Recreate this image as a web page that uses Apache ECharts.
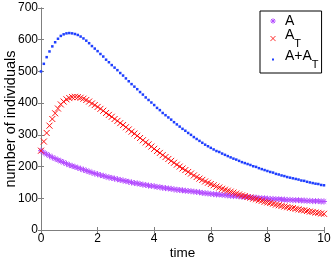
<!DOCTYPE html>
<html><head><meta charset="utf-8">
<script src="https://cdn.jsdelivr.net/npm/echarts@6/dist/echarts.min.js"></script>
<style>html,body{margin:0;padding:0;background:#fff}#c{width:332px;height:261px}</style>
</head><body><div id="c"></div>
<script>
var times = [0,0.1,0.2,0.3,0.4,0.5,0.6,0.7,0.8,0.9,1,1.1,1.2,1.3,1.4,1.5,1.6,1.7,1.8,1.9,2,2.1,2.2,2.3,2.4,2.5,2.6,2.7,2.8,2.9,3,3.1,3.2,3.3,3.4,3.5,3.6,3.7,3.8,3.9,4,4.1,4.2,4.3,4.4,4.5,4.6,4.7,4.8,4.9,5,5.1,5.2,5.3,5.4,5.5,5.6,5.7,5.8,5.9,6,6.1,6.2,6.3,6.4,6.5,6.6,6.7,6.8,6.9,7,7.1,7.2,7.3,7.4,7.5,7.6,7.7,7.8,7.9,8,8.1,8.2,8.3,8.4,8.5,8.6,8.7,8.8,8.9,9,9.1,9.2,9.3,9.4,9.5,9.6,9.7,9.8,9.9,10];
var seriesA = [250,244,239,234,229,225,221,217,213,209,205,
  202,199,196,193,190,187,184,181,178,176,
  173,171,168,166,164,162,160,158,156,154,
  152,150,148,147,145,143,142,140,139,138,
  136,135,133,132,131,130,128,127,126,125,
  124,123,122,121,120,119,117,116,115,114,
  113,112,112,111,110,109,108,107,107,106,
  105,104,104,103,102,102,101,100,100,99,
  98,98,97,97,96,96,95,95,94,94,
  94,93,93,92,92,91,91,91,90,90];
var seriesAT = [250,279,306,329,350,368,383,396,405,412,416,
  419,420,419,417,414,410,405,399,394,388,
  382,376,369,363,357,350,344,337,331,324,
  317,310,304,297,290,283,276,270,263,256,
  249,243,236,230,224,218,212,206,200,194,
  189,183,178,172,167,162,158,153,149,145,
  141,137,134,130,127,124,121,118,115,112,
  109,107,104,102,99,97,94,92,89,87,
  85,83,80,78,76,74,72,70,69,67,
  65,63,62,60,58,57,55,54,52,51];
var seriesSum = [500,524,545,563,579,592,603,612,617,620,621,
  620,618,615,610,604,597,589,580,572,564,
  555,547,537,529,520,512,504,495,487,478,
  469,460,452,444,435,427,418,410,402,394,
  385,378,369,362,355,348,340,333,326,319,
  313,306,300,293,287,281,275,269,264,259,
  254,249,246,241,237,233,229,225,222,218,
  214,211,208,205,201,199,195,192,189,186,
  183,181,177,175,172,170,167,165,163,161,
  159,156,155,152,150,148,146,145,142,141];
var names = ['A','A_T','A+A_T'];
var xTicks = {min:0, max:10, interval:2};
var yTicks = {min:0, max:700, interval:100};

function pairs(vals){ return times.map(function(t,i){ return [t, vals[i]]; }); }
var FONT = 'Liberation Sans, Arial, Helvetica, sans-serif';
var axisGray = '#7f7f7f';
var cA = '#b44cff', cAT = '#ff1010', cS = '#1f3fff';
var starPath = 'path://M0,-5 L0,5 M-5,0 L5,0 M-3.6,-3.6 L3.6,3.6 M-3.6,3.6 L3.6,-3.6';
var xPath = 'path://M-5,-5 L5,5 M-5,5 L5,-5';

function svgIcon(inner, vb){
  var svg = "<svg xmlns='http://www.w3.org/2000/svg' width='24' height='24' viewBox='" + vb + "'>" + inner + "</svg>";
  return 'image://data:image/svg+xml;charset=utf-8,' + encodeURIComponent(svg);
}
var iconStar = svgIcon("<path d='M0,-5V5M-5,0H5M-3.6,-3.6L3.6,3.6M-3.6,3.6L3.6,-3.6' stroke='" + cA + "' stroke-width='1.8' fill='none'/>", '-5.5 -5.5 11 11');
var iconX = svgIcon("<path d='M-5,-5L5,5M-5,5L5,-5' stroke='" + cAT + "' stroke-width='1.6' fill='none'/>", '-5.5 -5.5 11 11');
var iconDot = svgIcon("<rect x='-1' y='-1' width='2' height='2' fill='" + cS + "'/>", '-3 -3 6 6');

function baseAxis(extra){
  var o = {
    type:'value', splitLine:{show:false},
    nameMoveOverlap:false,
    axisLine:{show:true, lineStyle:{color:axisGray, width:1}},
    axisTick:{show:true, inside:true, length:3, lineStyle:{color:axisGray}},
    axisLabel:{color:'#000', fontSize:12, fontFamily:FONT}
  };
  for (var k in extra) o[k] = extra[k];
  return o;
}

var chart = echarts.init(document.getElementById('c'), null, {renderer:'canvas'});
chart.setOption({
  animation:false,
  backgroundColor:'#fff',
  grid:{left:41, right:8, top:8, bottom:31, containLabel:false, outerBoundsMode:'none'},
  xAxis:[
    baseAxis({min:xTicks.min, max:xTicks.max, interval:xTicks.interval, position:'bottom',
      name:'time', nameLocation:'middle', nameGap:16,
      nameTextStyle:{color:'#000', fontSize:13.5, fontFamily:FONT},
      axisLabel:{color:'#000', fontSize:12, fontFamily:FONT, margin:3}}),
    baseAxis({min:xTicks.min, max:xTicks.max, interval:xTicks.interval, position:'top', axisLabel:{show:false}})
  ],
  yAxis:[
    baseAxis({min:yTicks.min, max:yTicks.max, interval:yTicks.interval, position:'left',
      name:'number of individuals', nameLocation:'middle', nameGap:23,
      nameTextStyle:{color:'#000', fontSize:14.5, fontFamily:FONT},
      axisLabel:{color:'#000', fontSize:12, fontFamily:FONT, margin:3}}),
    baseAxis({min:yTicks.min, max:yTicks.max, interval:yTicks.interval, position:'right', axisLabel:{show:false}})
  ],
  legend:{
    orient:'vertical', left:260, top:11,
    padding:[3,3,3,10], itemGap:0,
    itemWidth:6, itemHeight:6,
    borderColor:'#000', borderWidth:1, backgroundColor:'#fff',
    selectedMode:false,
    data:[
      {name:'A', icon:iconStar},
      {name:'A_T', icon:iconX},
      {name:'A+A_T', icon:iconDot}
    ],
    formatter:function(n){
      if (n==='A') return '{p|A}';
      if (n==='A_T') return '{b|A}{s|T}';
      return '{b|A+A}{s|T}';
    },
    textStyle:{
      color:'#000', fontFamily:FONT, fontSize:14,
      rich:{
        p:{fontSize:14, lineHeight:20, fontFamily:FONT, color:'#000', padding:[0,0,0,4]},
        b:{fontSize:14, lineHeight:21, verticalAlign:'top', fontFamily:FONT, color:'#000', padding:[0,0,0,4]},
        s:{fontSize:11, lineHeight:21, verticalAlign:'bottom', fontFamily:FONT, color:'#000'}
      }
    }
  },
  series:[
    {name:names[0], type:'scatter', data:pairs(seriesA), symbol:starPath, symbolSize:6,
     itemStyle:{color:cA, borderColor:cA, borderWidth:1, opacity:1}},
    {name:names[1], type:'scatter', data:pairs(seriesAT), symbol:xPath, symbolSize:6,
     itemStyle:{color:cAT, borderColor:cAT, borderWidth:1, opacity:1}},
    {name:names[2], type:'scatter', data:pairs(seriesSum), symbol:'rect', symbolSize:2.5,
     itemStyle:{color:cS, opacity:1}}
  ]
});
</script></body></html>
